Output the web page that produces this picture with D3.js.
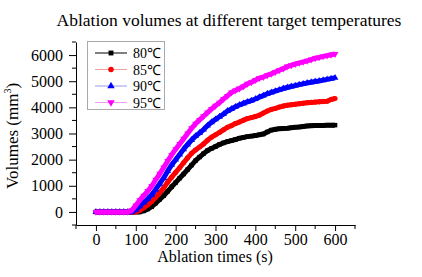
<!DOCTYPE html>
<html>
<head>
<meta charset="utf-8">
<script src="https://cdn.jsdelivr.net/npm/d3@7"></script>
<style>
  body { margin: 0; background: #fff; }
  text { font-family: "Liberation Serif", "Times New Roman", serif; fill: #000; }
</style>
</head>
<body>
<div id="chart"></div>
<script>
// data: ablation volume (mm3) sampled every 10 s, 0..600 s
var times = d3.range(0, 601, 10);

var vol80 = [0,0,0,0,0,0,0,0,0,0,0,0,40,110,200,340,480,620,790,960,
  1120,1290,1450,1620,1790,1960,2100,2230,2350,2430,2500,2580,2640,2690,2730,2770,
  2820,2850,2880,2900,2920,2950,2980,3060,3130,3160,3180,3190,3200,3220,3240,3250,
  3270,3290,3300,3310,3310,3310,3320,3320,3320];
var vol85 = [0,0,0,0,0,0,0,0,0,0,0,60,160,270,400,560,740,920,1140,1330,
  1510,1690,1880,2070,2240,2370,2480,2600,2740,2860,2950,3040,3140,3240,3300,3380,
  3440,3510,3570,3610,3650,3700,3780,3860,3920,3960,4010,4050,4080,4100,4120,4140,
  4160,4180,4190,4200,4210,4220,4230,4300,4340];
var vol90 = [0,0,0,0,0,0,0,0,0,0,80,220,360,500,660,860,1080,1300,1560,1800,
  2000,2200,2400,2580,2750,2900,3020,3150,3300,3430,3540,3640,3740,3860,3940,4020,
  4090,4150,4210,4260,4320,4390,4450,4520,4570,4620,4670,4720,4760,4800,4830,4870,
  4900,4930,4960,4990,5010,5040,5070,5100,5130];
var vol95 = [0,0,0,0,0,0,0,0,0,60,250,450,620,800,990,1230,1460,1700,1950,2180,
  2400,2600,2800,3000,3200,3370,3520,3660,3800,3940,4060,4180,4320,4440,4570,4650,
  4720,4800,4900,4960,5040,5120,5160,5230,5280,5350,5420,5480,5560,5610,5660,5700,
  5740,5780,5830,5880,5910,5950,5980,6010,6040];

var seriesNames = ["80\u2103", "85\u2103", "90\u2103", "95\u2103"];
var seriesValues = [vol80, vol85, vol90, vol95];
var seriesColors = ["#000000", "#ff0000", "#0000ff", "#ff00ff"];
var legendLineColors = ["#000000", "#f4a0a0", "#9a9af0", "#f0a0f0"];
var seriesSymbols = [d3.symbolSquare, d3.symbolCircle, d3.symbolTriangle, d3.symbolTriangle];

var xTicks = [0, 100, 200, 300, 400, 500, 600];
var yTicks = [0, 1000, 2000, 3000, 4000, 5000, 6000];

// svg
var svgWidth = 422;
var svgHeight = 277;

var svg = d3.select("#chart")
  .append("svg")
  .attr("width", svgWidth)
  .attr("height", svgHeight);

var x = d3.scaleLinear().domain([-50, 650]).range([76, 355]);
var y = d3.scaleLinear().domain([-500, 6500]).range([225, 42]);

// title
svg.append("text")
  .attr("x", 229)
  .attr("y", 26)
  .attr("text-anchor", "middle")
  .style("font-size", "17.5px")
  .text("Ablation volumes at different target temperatures");

// curves (black first so magenta ends on top)
var line = d3.line()
  .x((d, i) => x(times[i]))
  .y(d => y(d));

seriesValues.forEach(function(vals, k) {
  svg.append("path")
    .attr("d", line(vals))
    .attr("fill", "none")
    .attr("stroke", seriesColors[k])
    .attr("stroke-width", 5)
    .attr("stroke-linejoin", "round");

  var sym = d3.symbol().type(seriesSymbols[k]).size(20);
  svg.selectAll("path.pt" + k)
    .data(vals)
    .enter()
    .append("path")
    .attr("class", "pt" + k)
    .attr("d", sym)
    .attr("transform", (d, i) => `translate(${x(times[i])},${y(d)})` + (k == 3 ? " rotate(180)" : ""))
    .attr("fill", seriesColors[k]);
});

// minor ticks
var xMinor = d3.range(-50, 651, 50).filter(v => v % 100 != 0);
var yMinor = d3.range(-500, 6501, 500).filter(v => v % 1000 != 0);

svg.selectAll("line.xminor")
  .data(xMinor)
  .enter()
  .append("line")
  .attr("x1", d => x(d)).attr("x2", d => x(d))
  .attr("y1", 225).attr("y2", 229)
  .attr("stroke", "#000");

svg.selectAll("line.yminor")
  .data(yMinor)
  .enter()
  .append("line")
  .attr("x1", 72).attr("x2", 76)
  .attr("y1", d => y(d)).attr("y2", d => y(d))
  .attr("stroke", "#000");

// axes
var bottomAxis = d3.axisBottom(x).tickValues(xTicks).tickFormat(d3.format("d"))
  .tickSize(6).tickSizeOuter(0).tickPadding(3);
var leftAxis = d3.axisLeft(y).tickValues(yTicks).tickFormat(d3.format("d"))
  .tickSize(7).tickSizeOuter(0).tickPadding(6);

var gx = svg.append("g")
  .attr("transform", "translate(0,225)")
  .call(bottomAxis);
var gy = svg.append("g")
  .attr("transform", "translate(76,0)")
  .call(leftAxis);

[gx, gy].forEach(function(g) {
  g.selectAll("text").style("font-size", "16px").attr("fill", "#000");
  g.selectAll("line, path").attr("stroke", "#000");
});

// axis titles
svg.append("text")
  .attr("x", 215)
  .attr("y", 262)
  .attr("text-anchor", "middle")
  .style("font-size", "16px")
  .text("Ablation times (s)");

var yl = svg.append("text")
  .attr("transform", "translate(18,136) rotate(-90)")
  .attr("text-anchor", "middle")
  .style("font-size", "17px");
yl.append("tspan").text("Volumes (mm");
yl.append("tspan").attr("dy", -7).style("font-size", "10px").text("3");
yl.append("tspan").attr("dy", 7).text(")");

// legend
var legend = svg.append("g");
legend.append("rect")
  .attr("x", 87.5).attr("y", 41.5)
  .attr("width", 77).attr("height", 68)
  .attr("fill", "#fff")
  .attr("stroke", "#aaa");

seriesNames.forEach(function(name, k) {
  var ly = 53 + k * 16.5;
  legend.append("line")
    .attr("x1", 95).attr("x2", 127)
    .attr("y1", ly).attr("y2", ly)
    .attr("stroke", legendLineColors[k]);
  legend.append("path")
    .attr("d", d3.symbol().type(seriesSymbols[k]).size(24))
    .attr("transform", `translate(111,${ly})` + (k == 3 ? " rotate(180)" : ""))
    .attr("fill", seriesColors[k]);
  legend.append("text")
    .attr("x", 133)
    .attr("y", ly + 5)
    .style("font-size", "14px")
    .text(name);
});
</script>
</body>
</html>
